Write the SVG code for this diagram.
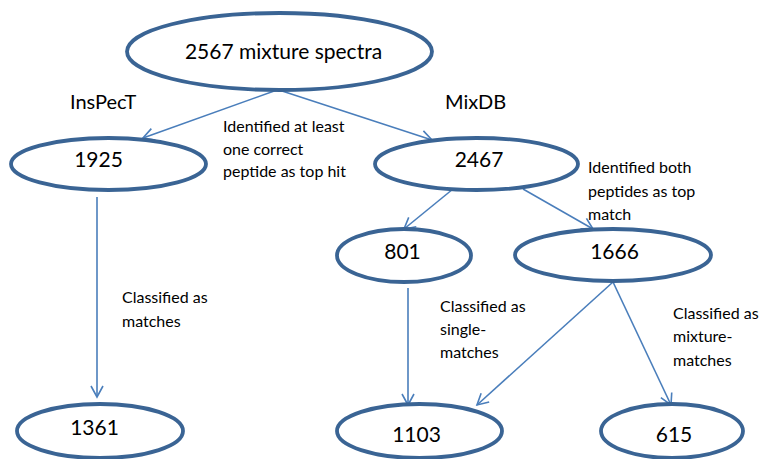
<svg xmlns="http://www.w3.org/2000/svg" width="763" height="459" viewBox="0 0 763 459">
  <defs>
    <marker id="arr" markerWidth="14" markerHeight="14" refX="12" refY="7" orient="auto" markerUnits="userSpaceOnUse">
      <path d="M1,1 L12,7 L1,13" fill="none" stroke="#4A7EBB" stroke-width="1.6"/>
    </marker>
  </defs>
  <style>
    .node { fill: #FFFFFF; stroke: #3A6494; stroke-width: 3.8; }
    .num { font-family: Lato, "Open Sans", sans-serif; font-size: 21px; fill: #000000; text-anchor: middle; }
    .lbl { font-family: Lato, "Open Sans", sans-serif; font-size: 16px; fill: #000000; }
    .head { font-family: Lato, "Open Sans", sans-serif; font-size: 20px; fill: #000000; }
    .edge { fill: none; stroke: #4A7EBB; stroke-width: 1.6; marker-end: url(#arr); }
  </style>
  <rect width="763" height="459" fill="#FFFFFF"/>

  <g id="connectors">
    <line class="edge" x1="277" y1="90" x2="143" y2="138"/>
    <line class="edge" x1="279" y1="90" x2="432" y2="140"/>
    <line class="edge" x1="97" y1="197" x2="97" y2="397"/>
    <line class="edge" x1="453" y1="189" x2="404" y2="229"/>
    <line class="edge" x1="523" y1="189" x2="593" y2="229"/>
    <line class="edge" x1="408" y1="288" x2="408" y2="405"/>
    <line class="edge" x1="613" y1="282" x2="477" y2="405"/>
    <line class="edge" x1="613" y1="282" x2="671" y2="405"/>
  </g>

  <g id="node-2567">
    <ellipse class="node" cx="279.5" cy="51.5" rx="152.5" ry="38.5"/>
    <text class="num" x="283.5" y="59" font-size="22">2567 mixture spectra</text>
  </g>
  <g id="node-1925">
    <ellipse class="node" cx="108.5" cy="164" rx="97.5" ry="26"/>
    <text class="num" x="98.5" y="167">1925</text>
  </g>
  <g id="node-2467">
    <ellipse class="node" cx="476.5" cy="164" rx="101.5" ry="26"/>
    <text class="num" x="479" y="167">2467</text>
  </g>
  <g id="node-801">
    <ellipse class="node" cx="404" cy="255.5" rx="67" ry="26.5"/>
    <text class="num" x="402.5" y="259">801</text>
  </g>
  <g id="node-1666">
    <ellipse class="node" cx="613" cy="255" rx="98" ry="26"/>
    <text class="num" x="614.5" y="259">1666</text>
  </g>
  <g id="node-1361">
    <ellipse class="node" cx="100" cy="431" rx="83" ry="27"/>
    <text class="num" x="94.5" y="435">1361</text>
  </g>
  <g id="node-1103">
    <ellipse class="node" cx="419.5" cy="431" rx="82.5" ry="27"/>
    <text class="num" x="416.5" y="442">1103</text>
  </g>
  <g id="node-615">
    <ellipse class="node" cx="672" cy="431" rx="71" ry="27"/>
    <text class="num" x="674" y="442">615</text>
  </g>

  <g id="labels">
    <text class="head" x="70" y="109">InsPecT</text>
    <text class="head" x="445" y="109">MixDB</text>
    <text class="lbl" x="223" y="132">Identified at least</text>
    <text class="lbl" x="223" y="155">one correct</text>
    <text class="lbl" x="223" y="177">peptide as top hit</text>
    <text class="lbl" x="588" y="173">Identified both</text>
    <text class="lbl" x="588" y="197">peptides as top</text>
    <text class="lbl" x="588" y="220">match</text>
    <text class="lbl" x="122" y="303">Classified as</text>
    <text class="lbl" x="122" y="327">matches</text>
    <text class="lbl" x="440" y="312">Classified as</text>
    <text class="lbl" x="440" y="335">single-</text>
    <text class="lbl" x="440" y="358">matches</text>
    <text class="lbl" x="673" y="319">Classified as</text>
    <text class="lbl" x="673" y="342">mixture-</text>
    <text class="lbl" x="673" y="366">matches</text>
  </g>
</svg>
